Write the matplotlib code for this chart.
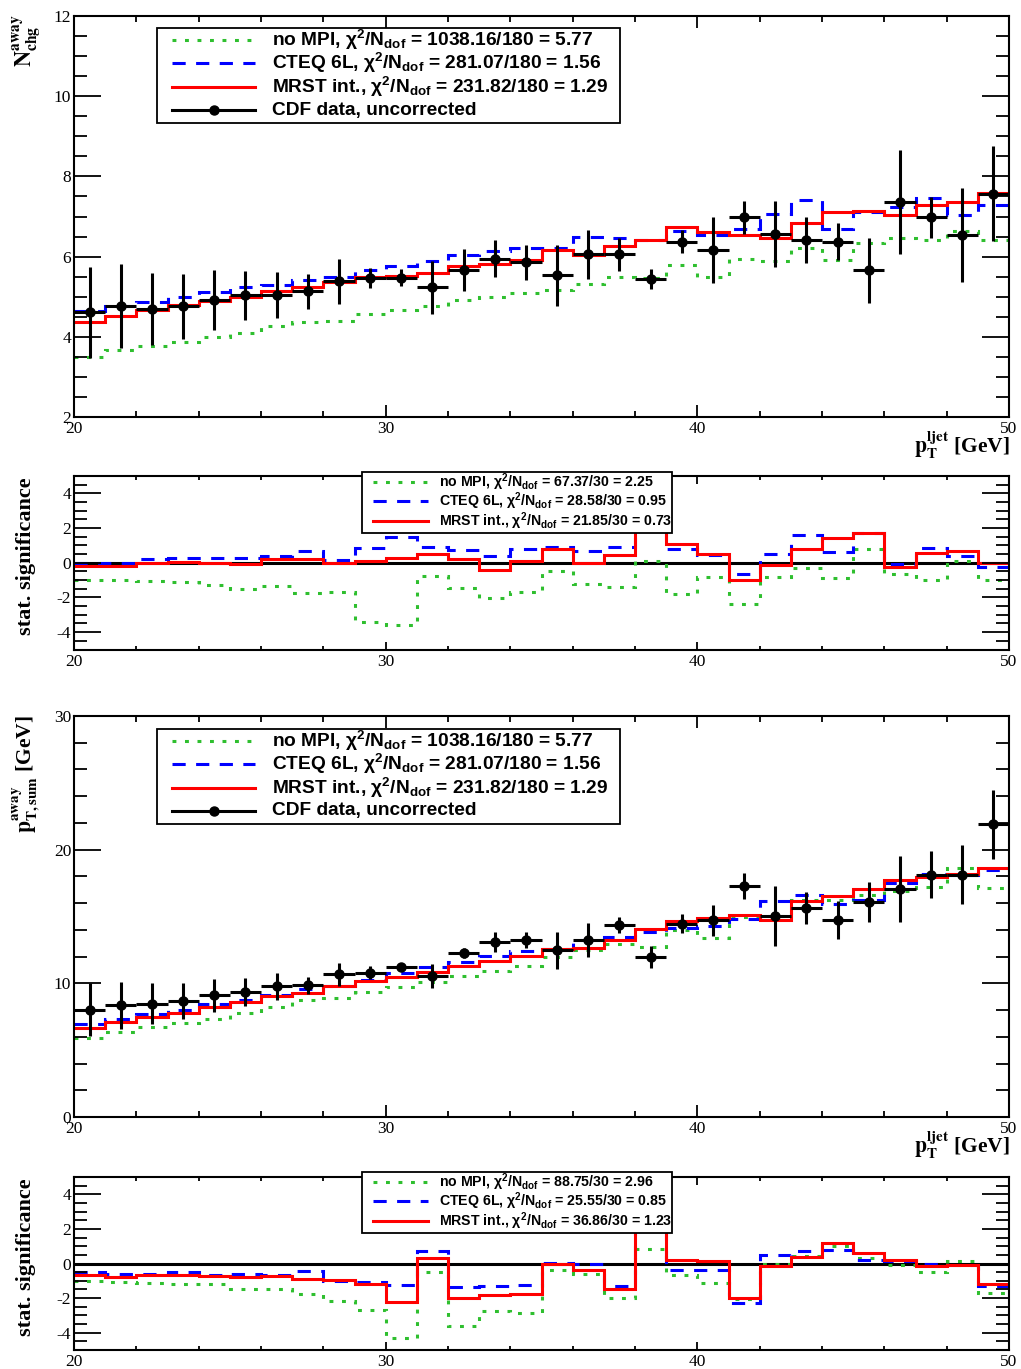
import numpy as np
import matplotlib
matplotlib.use("Agg")
import matplotlib.pyplot as plt
from matplotlib.patches import Rectangle
from matplotlib.lines import Line2D

plt.rcParams['axes.unicode_minus'] = False
plt.rcParams['lines.scale_dashes'] = False
plt.rcParams['mathtext.fontset'] = 'custom'
plt.rcParams['mathtext.rm'] = 'Liberation Sans:bold'
plt.rcParams['mathtext.bf'] = 'Liberation Sans:bold'
plt.rcParams['mathtext.it'] = 'Liberation Sans:bold:italic'

# ---------------- data ----------------
bin_edges = list(range(20, 51))

nchg_data = [4.61, 4.76, 4.69, 4.76, 4.92, 5.03, 5.04, 5.13, 5.38, 5.47, 5.47, 5.23, 5.67, 5.95, 5.86,
             5.54, 6.06, 6.06, 5.44, 6.37, 6.17, 6.98, 6.56, 6.41, 6.37, 5.66, 7.36, 6.98, 6.54, 7.57]
nchg_err = [1.13, 1.05, 0.90, 0.81, 0.75, 0.62, 0.58, 0.43, 0.57, 0.25, 0.21, 0.65, 0.52, 0.46, 0.44,
            0.76, 0.61, 0.41, 0.25, 0.29, 0.83, 0.41, 0.82, 0.57, 0.46, 0.81, 1.29, 0.51, 1.17, 1.18]
nchg_mrst = [4.38, 4.53, 4.67, 4.79, 4.90, 5.00, 5.15, 5.23, 5.37, 5.48, 5.51, 5.59, 5.77, 5.81, 5.92,
             6.16, 6.05, 6.26, 6.41, 6.73, 6.62, 6.54, 6.46, 6.85, 7.10, 7.14, 7.04, 7.29, 7.37, 7.58]
nchg_cteq = [4.65, 4.78, 4.88, 5.00, 5.11, 5.23, 5.29, 5.41, 5.48, 5.67, 5.76, 5.88, 6.04, 6.15, 6.22,
             6.22, 6.48, 6.46, 6.42, 6.64, 6.54, 6.68, 7.07, 7.41, 6.70, 7.12, 7.24, 7.46, 7.04, 7.29]
nchg_nompi = [3.49, 3.66, 3.77, 3.87, 3.99, 4.09, 4.26, 4.36, 4.40, 4.57, 4.67, 4.76, 4.93, 5.00, 5.09,
              5.17, 5.32, 5.48, 5.47, 5.79, 5.48, 5.94, 5.88, 6.21, 5.92, 6.33, 6.46, 6.41, 6.63, 6.41]

sig1_nompi = [-0.97, -1.00, -1.04, -1.10, -1.26, -1.53, -1.35, -1.72, -1.68, -3.42, -3.56, -0.77, -1.43, -2.03, -1.68,
              -0.46, -1.24, -1.39, 0.12, -1.82, -0.81, -2.36, -0.81, -0.33, -0.87, 0.79, -0.66, -1.00, 0.10, -0.97]
sig1_cteq = [0.00, -0.04, 0.19, 0.25, 0.25, 0.27, 0.41, 0.68, 0.15, 0.87, 1.47, 0.93, 0.73, 0.39, 0.77,
             0.89, 0.68, 0.89, 3.90, 0.79, 0.43, -0.66, 0.50, 1.60, 0.64, 1.70, -0.08, 0.83, 0.39, -0.27]
sig1_mrst = [-0.19, -0.19, -0.04, 0.06, -0.04, -0.06, 0.19, 0.19, -0.04, 0.12, 0.25, 0.50, 0.19, -0.39, 0.12,
             0.77, -0.04, 0.43, 3.90, 1.06, 0.48, -0.97, -0.14, 0.77, 1.41, 1.74, -0.27, 0.54, 0.70, -0.04]

ptsum_data = [8.03, 8.35, 8.48, 8.70, 9.10, 9.35, 9.78, 9.85, 10.67, 10.80, 11.22, 10.55, 12.27, 13.09, 13.22,
              12.47, 13.22, 14.34, 11.97, 14.46, 14.71, 17.28, 15.04, 15.66, 14.71, 16.08, 17.03, 18.13, 18.13, 21.90]
ptsum_err = [2.00, 1.77, 1.55, 1.36, 1.21, 1.02, 1.02, 0.62, 0.84, 0.46, 0.27, 0.91, 0.41, 0.76, 0.60,
             1.38, 1.27, 0.60, 0.80, 0.69, 1.16, 0.99, 2.22, 1.21, 1.43, 1.51, 2.46, 1.75, 2.21, 2.60]
ptsum_mrst = [6.68, 7.11, 7.48, 7.81, 8.23, 8.58, 9.03, 9.28, 9.83, 10.17, 10.47, 10.85, 11.32, 11.67, 12.04,
              12.57, 12.67, 13.27, 14.09, 14.64, 14.91, 15.11, 14.71, 16.18, 16.53, 17.03, 17.71, 17.96, 18.15, 18.65]
ptsum_cteq = [6.98, 7.31, 7.68, 7.98, 8.43, 8.78, 9.10, 9.55, 9.80, 10.22, 10.80, 11.22, 11.60, 12.07, 12.39,
              12.59, 13.27, 13.47, 13.84, 14.16, 14.26, 14.84, 16.16, 16.63, 15.91, 16.26, 17.51, 18.20, 18.08, 18.45]
ptsum_nompi = [5.94, 6.36, 6.73, 7.06, 7.36, 7.78, 8.23, 8.78, 8.90, 9.35, 9.73, 10.10, 10.52, 10.90, 11.30,
               11.97, 12.47, 12.92, 12.72, 13.97, 13.39, 14.96, 15.04, 16.26, 16.20, 16.58, 16.90, 17.20, 18.65, 17.16]

sig2_nompi = [-1.03, -1.07, -1.12, -1.16, -1.20, -1.45, -1.49, -1.78, -2.17, -2.71, -4.30, -0.48, -3.59, -2.77, -2.85,
              -0.35, -0.58, -2.00, 0.81, -0.68, -1.12, -2.03, 0.00, 0.43, 1.00, 0.29, -0.10, -0.52, 0.16, -1.71]
sig2_cteq = [-0.48, -0.58, -0.58, -0.52, -0.64, -0.62, -0.64, -0.45, -1.03, -1.07, -1.26, 0.72, -1.36, -1.32, -1.26,
             0.04, -0.04, -1.30, 2.34, -0.39, -0.39, -2.29, 0.48, 0.72, 0.78, 0.19, 0.14, 0.00, -0.10, -1.30]
sig2_mrst = [-0.68, -0.78, -0.66, -0.64, -0.74, -0.78, -0.72, -0.87, -0.97, -1.20, -2.25, 0.29, -2.00, -1.84, -1.74,
             0.00, -0.39, -1.49, 2.65, 0.19, 0.16, -1.98, -0.16, 0.39, 1.20, 0.62, 0.23, -0.16, -0.06, -1.16]

main_legend = ["no MPI, χ$^{2}$/N$_{\\rm dof}$ = 1038.16/180 = 5.77",
               "CTEQ 6L, χ$^{2}$/N$_{\\rm dof}$ = 281.07/180 = 1.56",
               "MRST int., χ$^{2}$/N$_{\\rm dof}$ = 231.82/180 = 1.29",
               "CDF data, uncorrected"]
sig1_legend = ["no MPI, χ$^{2}$/N$_{\\rm dof}$ = 67.37/30 = 2.25",
               "CTEQ 6L, χ$^{2}$/N$_{\\rm dof}$ = 28.58/30 = 0.95",
               "MRST int., χ$^{2}$/N$_{\\rm dof}$ = 21.85/30 = 0.73"]
sig2_legend = ["no MPI, χ$^{2}$/N$_{\\rm dof}$ = 88.75/30 = 2.96",
               "CTEQ 6L, χ$^{2}$/N$_{\\rm dof}$ = 25.55/30 = 0.85",
               "MRST int., χ$^{2}$/N$_{\\rm dof}$ = 36.86/30 = 1.23"]

# ---------------- styles ----------------
W, H = 1021, 1369
C_GREEN = '#2fbf2f'
C_BLUE = '#0000ff'
C_RED = '#ff0000'
LW = 2.2
st_nompi = dict(color=C_GREEN, lw=LW, ls=(0, (2.8, 6.2)))
st_cteq = dict(color=C_BLUE, lw=LW, ls=(0, (9.5, 7.5)))
st_mrst = dict(color=C_RED, lw=LW, ls='-')
TICKFONT = dict(family='Liberation Serif', size=12.5)

fig = plt.figure(figsize=(W / 100, H / 100), dpi=100)


def px_axes(top, bottom, left=74, right=1009):
    return fig.add_axes([left / W, 1 - bottom / H, (right - left) / W, (bottom - top) / H])


def style_axes(ax, xlen_major, xlen_minor):
    for s in ax.spines.values():
        s.set_linewidth(1.5)
    ax.set_xlim(20, 50)
    ax.set_xticks([20, 30, 40, 50])
    ax.set_xticks(np.arange(20, 51, 2), minor=True)
    ax.tick_params(which='both', direction='in', top=True, right=True, width=1.3)
    ax.tick_params(axis='x', which='major', length=xlen_major, pad=3)
    ax.tick_params(axis='x', which='minor', length=xlen_minor)
    ax.tick_params(axis='y', which='major', length=19.5, pad=2)
    ax.tick_params(axis='y', which='minor', length=9.5)
    for lab in ax.get_xticklabels() + ax.get_yticklabels():
        lab.set_fontfamily(TICKFONT['family'])
        lab.set_fontsize(TICKFONT['size'])


def main_panel(ax, data, err, mrst, cteq, nompi, ylim, ymaj, ymin):
    ax.stairs(nompi, bin_edges, baseline=None, **st_nompi)
    ax.stairs(cteq, bin_edges, baseline=None, **st_cteq)
    ax.stairs(mrst, bin_edges, baseline=None, **st_mrst)
    edges = np.array(bin_edges, dtype=float)
    centers = 0.5 * (edges[:-1] + edges[1:])
    halfw = 0.5 * np.diff(edges)
    ax.errorbar(centers, data, yerr=err, xerr=halfw, fmt='o', color='k', ms=6.5,
                elinewidth=2.2, capsize=0, zorder=5)
    ax.set_ylim(*ylim)
    ax.set_yticks(ymaj)
    ax.set_yticks(ymin, minor=True)
    style_axes(ax, 8.6, 4.5)


def sig_panel(ax, nompi, cteq, mrst):
    ax.axhline(0, color='k', lw=LW, zorder=1)
    ax.stairs(nompi, bin_edges, baseline=None, **st_nompi)
    ax.stairs(cteq, bin_edges, baseline=None, **st_cteq)
    ax.stairs(mrst, bin_edges, baseline=None, **st_mrst)
    ax.set_ylim(-5, 5)
    ax.set_yticks([-4, -2, 0, 2, 4])
    ax.set_yticks(np.arange(-5, 5.01, 0.5), minor=True)
    style_axes(ax, 5.8, 3.2)


ax1 = px_axes(16, 417)
main_panel(ax1, nchg_data, nchg_err, nchg_mrst, nchg_cteq, nchg_nompi, (2, 12),
           [2, 4, 6, 8, 10, 12], np.arange(2, 12.01, 0.5))
ax2 = px_axes(476, 649.5)
sig_panel(ax2, sig1_nompi, sig1_cteq, sig1_mrst)
ax3 = px_axes(716, 1117)
main_panel(ax3, ptsum_data, ptsum_err, ptsum_mrst, ptsum_cteq, ptsum_nompi, (0, 30),
           [0, 10, 20, 30], np.arange(0, 30.01, 2))
ax4 = px_axes(1177, 1350)
sig_panel(ax4, sig2_nompi, sig2_cteq, sig2_mrst)

# ---------------- overlay for legends and titles (pixel coordinates) ----------------
ov = fig.add_axes([0, 0, 1, 1], zorder=20)
ov.set_xlim(0, W)
ov.set_ylim(H, 0)
ov.axis('off')
ov.patch.set_alpha(0)


def draw_legend(x0, y0, x1, y1, rows, labels, styles, sx0, sx1, tx, fs):
    ov.add_patch(Rectangle((x0, y0), x1 - x0, y1 - y0, facecolor='white', edgecolor='black', lw=1.3, zorder=1))
    for i, (yy, lab) in enumerate(zip(rows, labels)):
        if i < len(styles):
            ov.add_line(Line2D([sx0, sx1], [yy, yy], zorder=2, **styles[i]))
        else:
            ov.add_line(Line2D([sx0, sx1], [yy, yy], color='k', lw=LW, zorder=2))
            ov.plot([(sx0 + sx1) / 2], [yy], 'o', color='k', ms=6.5, zorder=3)
        ov.text(tx, yy, lab, fontsize=fs, family='Liberation Sans', weight='bold',
                ha='left', va='center', zorder=3)


styles3 = [st_nompi, st_cteq, st_mrst]
draw_legend(157, 28, 620, 123, [40, 63, 87, 110], main_legend, styles3, 172, 255, 272, 13.8)
draw_legend(157, 729, 620, 824, [741, 764, 788, 811], main_legend, styles3, 172, 255, 272, 13.8)
draw_legend(362, 472, 672, 533, [482, 501, 521], sig1_legend, styles3, 373, 428, 439, 10.2)
draw_legend(362, 1172, 672, 1233, [1182, 1201, 1221], sig2_legend, styles3, 373, 428, 439, 10.2)

# axis titles
ov.text(27, 14, r"$\mathbf{N}^{\mathbf{away}}_{\mathbf{chg}}$", math_fontfamily='stix', fontsize=16,
        rotation=90, ha='center', va='top')
ov.text(26, 715, r"$\mathbf{p}^{\mathbf{away}}_{\mathbf{T,sum}}$ [GeV]", math_fontfamily='stix',
        family='Liberation Serif', weight='bold', fontsize=15.5, rotation=90, ha='center', va='top')
for ytop in (477, 1178):
    ov.text(26, ytop, "stat. significance", family='Liberation Serif', weight='bold', fontsize=16,
            rotation=90, ha='center', va='top')
for yc in (445, 1145):
    ov.text(1010, yc, r"$\mathbf{p}_{\mathbf{T}}^{\mathbf{ljet}}$ [GeV]", math_fontfamily='stix',
            family='Liberation Serif', weight='bold', fontsize=15.5, ha='right', va='center')

fig.savefig("out.png", dpi=100)
